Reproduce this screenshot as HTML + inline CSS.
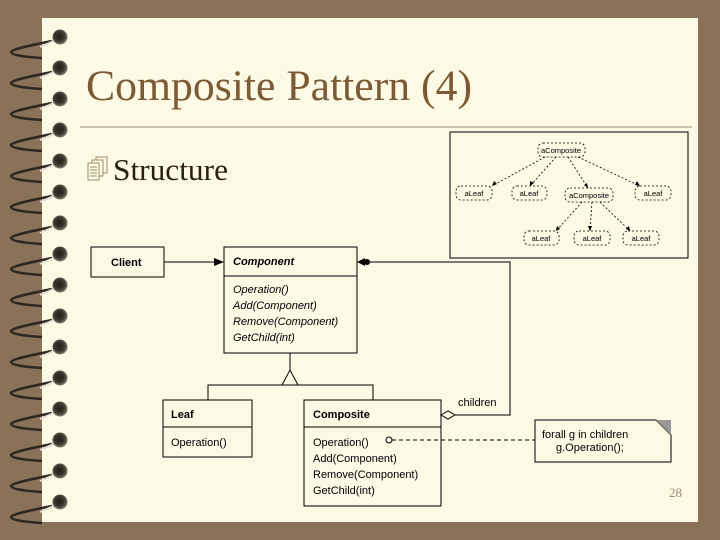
<!DOCTYPE html>
<html><head><style>
body{margin:0;width:720px;height:540px;background:#8a7259;position:relative;overflow:hidden;font-family:"Liberation Sans",sans-serif}
#pg{position:absolute;left:42px;top:18px;width:656px;height:504px;background:#fcf9e4}
svg{position:absolute;left:0;top:0}
</style></head><body>
<div id="pg"></div>
<svg width="720" height="540" viewBox="0 0 720 540">
<defs><radialGradient id="bd" cx="0.45" cy="0.45" r="0.6"><stop offset="0" stop-color="#222018"/><stop offset="0.55" stop-color="#3a372c"/><stop offset="1" stop-color="#8a8a78"/></radialGradient>
<g id="ring"><path d="M52 4C32 8 12 12 11 15C12 19 30 20 42 21" fill="none" stroke="#2e2820" stroke-width="2.5"/><path d="M40 10L56 3" stroke="#e0e0d4" stroke-width="2"/><circle cx="60" cy="0" r="7.5" fill="url(#bd)"/></g></defs>
<use href="#ring" y="37"/><use href="#ring" y="68"/><use href="#ring" y="99"/><use href="#ring" y="130"/><use href="#ring" y="161"/><use href="#ring" y="192"/><use href="#ring" y="223"/><use href="#ring" y="254"/><use href="#ring" y="285"/><use href="#ring" y="316"/><use href="#ring" y="347"/><use href="#ring" y="378"/><use href="#ring" y="409"/><use href="#ring" y="440"/><use href="#ring" y="471"/><use href="#ring" y="502"/>
<text x="86" y="100" font-family="Liberation Serif,serif" font-size="43" textLength="386" lengthAdjust="spacingAndGlyphs" fill="#7b5a35">Composite Pattern (4)</text>
<line x1="80" y1="127" x2="692" y2="127" stroke="#9a8a70" stroke-width="1"/>
<g fill="none" stroke="#a08a6a" stroke-width="1"><rect x="96" y="157" width="11" height="16" fill="#fcf9e4"/><rect x="92" y="160" width="11" height="16" fill="#fcf9e4"/><rect x="88" y="163" width="11" height="17" fill="#fcf9e4"/><path d="M90 167h7M90 170h7M90 173h7M90 176h7"/></g>
<text x="113" y="180" font-family="Liberation Serif,serif" font-size="31" textLength="115" lengthAdjust="spacingAndGlyphs" fill="#2e2010">Structure</text>
<rect x="450" y="132" width="238" height="126" fill="#fcf9e4" stroke="#000"/>
<g fill="none" stroke="#000" stroke-width="0.8" stroke-dasharray="2,2">
<rect x="538" y="143" width="47" height="14" rx="5"/>
<rect x="456" y="186" width="36" height="14" rx="5"/><rect x="512" y="186" width="35" height="14" rx="5"/>
<rect x="565" y="188" width="48" height="14" rx="5"/><rect x="635" y="186" width="36" height="14" rx="5"/>
<rect x="524" y="231" width="35" height="14" rx="5"/><rect x="574" y="231" width="36" height="14" rx="5"/><rect x="623" y="231" width="36" height="14" rx="5"/>
<path d="M545 157L492 186M556 157L530 186M568 157L588 188M578 157L640 186M582 202L556 231M592 202L590 231M600 202L630 231"/>
</g>
<g fill="#000"><path d="M492 186l2-5 3 3z"/><path d="M530 186l0-5 4 2z"/><path d="M588 188l-4-3 3-2z"/><path d="M640 186l-5-1 2-4z"/><path d="M556 231l1-5 3 3z"/><path d="M590 231l-2-5h4z"/><path d="M630 231l-4-2 3-3z"/></g>
<g font-size="7.5" fill="#000" text-anchor="middle">
<text x="561" y="153">aComposite</text><text x="474" y="196">aLeaf</text><text x="529" y="196">aLeaf</text><text x="589" y="198">aComposite</text><text x="653" y="196">aLeaf</text><text x="541" y="241">aLeaf</text><text x="592" y="241">aLeaf</text><text x="641" y="241">aLeaf</text>
</g>
<g fill="none" stroke="#000" stroke-width="1">
<rect x="91" y="247" width="73" height="30"/>
<rect x="224" y="247" width="133" height="106"/><line x1="224" y1="276" x2="357" y2="276"/>
<rect x="163" y="400" width="89" height="57"/><line x1="163" y1="427" x2="252" y2="427"/>
<rect x="304" y="400" width="137" height="106"/><line x1="304" y1="427" x2="441" y2="427"/>
<line x1="164" y1="262" x2="218" y2="262"/>
<path d="M370 262H510V415H455"/>
<path d="M441 415l7-4 7 4-7 4z" fill="#fcf9e4"/>
<path d="M290 353V370M282 385L290 370L298 385M208 400V385H373V400"/>
<path d="M392 440H535" stroke-dasharray="4,3"/>
<circle cx="389" cy="440" r="3" fill="#fcf9e4"/>
<path d="M535 420H656L671 435V462H535Z"/>
</g>
<path d="M656 420L671 435V420Z" fill="#999"/>
<path d="M224 262l-10-4v8z" fill="#000"/>
<path d="M357 262l8-4v8z" fill="#000"/><circle cx="367" cy="262" r="3" fill="#000"/>
<g font-size="11" fill="#000">
<text x="111" y="266" font-weight="bold">Client</text>
<text x="233" y="265" font-weight="bold" font-style="italic">Component</text>
<g font-style="italic"><text x="233" y="293">Operation()</text><text x="233" y="309">Add(Component)</text><text x="233" y="325">Remove(Component)</text><text x="233" y="341">GetChild(int)</text></g>
<text x="171" y="418" font-weight="bold">Leaf</text><text x="171" y="446">Operation()</text>
<text x="313" y="418" font-weight="bold">Composite</text>
<text x="313" y="446">Operation()</text><text x="313" y="462">Add(Component)</text><text x="313" y="478">Remove(Component)</text><text x="313" y="494">GetChild(int)</text>
<text x="458" y="406">children</text>
<text x="542" y="438">forall g in children</text><text x="556" y="451">g.Operation();</text>
</g>
<text x="669" y="497" font-family="Liberation Serif,serif" font-size="13" fill="#9a8a70">28</text>
</svg>
</body></html>
